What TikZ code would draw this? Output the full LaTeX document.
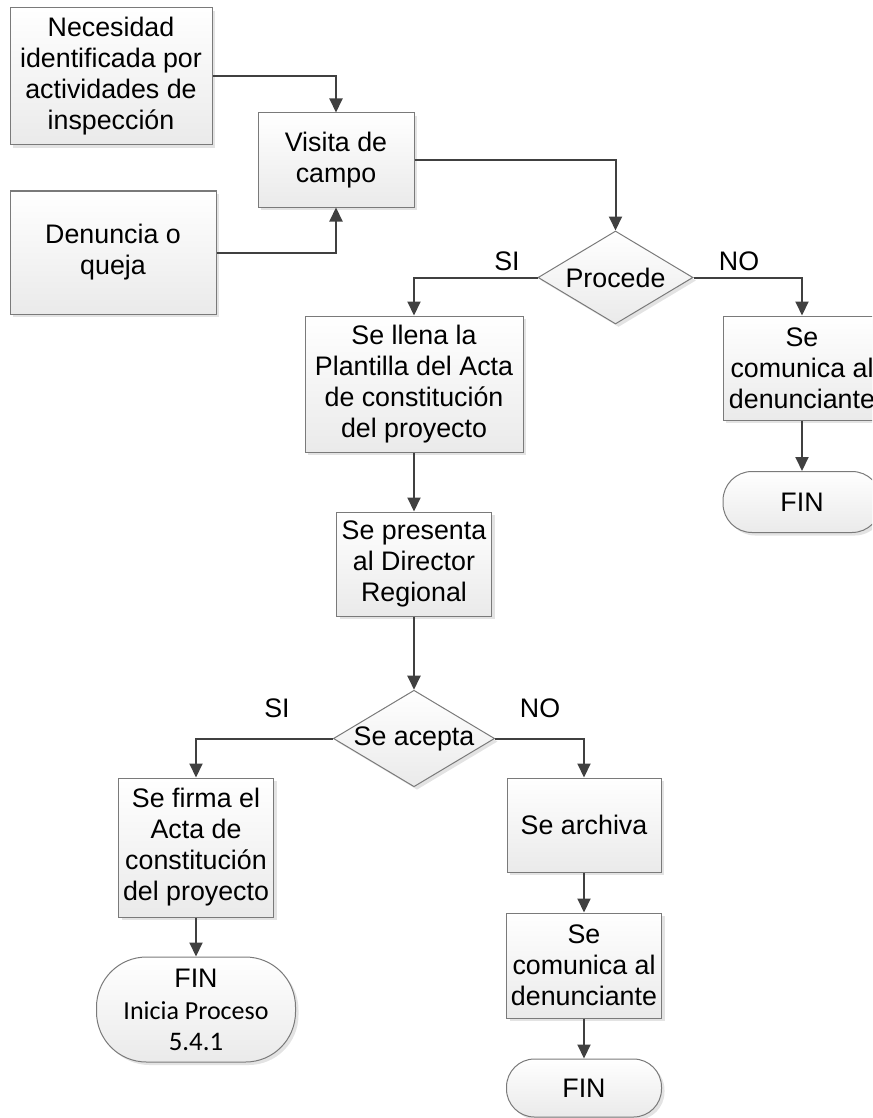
\documentclass[tikz,border=0pt]{standalone}
\usepackage{fontspec}
\setmainfont{Liberation Sans}
\newfontfamily\calibri{Carlito}
\usetikzlibrary{shapes.geometric,arrows.meta,shadows}

\definecolor{edgegray}{HTML}{404040}
\definecolor{bordergray}{HTML}{7A7A7A}
\definecolor{fillbottom}{HTML}{EAEAEA}

\tikzset{
  shapebase/.style={draw=bordergray, line width=1pt, top color=white,
    bottom color=fillbottom, inner sep=0pt, align=center,
    font=\fontsize{26.8}{31}\selectfont,
    drop shadow={shadow xshift=3pt, shadow yshift=-3pt, fill=black, opacity=0.11}},
  procbox/.style={shapebase, rectangle},
  decision/.style={shapebase, diamond, aspect=1.67},
  terminal/.style={shapebase, rectangle},
  flow/.style={draw=edgegray, line width=2pt, -{Triangle[length=14pt,width=13pt]}},
  answer/.style={font=\fontsize{26.8}{31}\selectfont, inner sep=0pt}
}

\begin{document}
\begin{tikzpicture}[x=1pt, y=-1pt]
  \useasboundingbox (0,0) rectangle (872,1118);
  \clip (0,0) rectangle (872,1118);

  % process boxes
  \node[procbox, minimum width=202, minimum height=137] (nec) at (111,76.5)
    {Necesidad\\identificada por\\actividades de\\inspección};
  \node[procbox, minimum width=206, minimum height=123] (den) at (113,252.5)
    {Denuncia o\\queja};
  \node[procbox, minimum width=156, minimum height=94] (vis) at (336,160)
    {Visita de\\campo};
  \node[decision, minimum width=155, minimum height=93] (proc) at (615.5,277.5)
    {Procede};
  \node[procbox, minimum width=218, minimum height=136] (llena) at (414,384)
    {Se llena la\\Plantilla del Acta\\de constitución\\del proyecto};
  \node[procbox, minimum width=158, minimum height=104] (com1) at (802,368)
    {Se\\comunica al\\denunciante};
  \node[terminal, rounded corners=29pt, minimum width=158, minimum height=61] (fin1) at (802,502)
    {FIN};
  \node[procbox, minimum width=155, minimum height=104] (pres) at (414,564)
    {Se presenta\\al Director\\Regional};
  \node[decision, minimum width=154, minimum height=91] (acep) at (414,738.5)
    {Se acepta};
  \node[procbox, minimum width=155, minimum height=139] (firma) at (196,847.5)
    {Se firma el\\Acta de\\constitución\\del proyecto};
  \node[terminal, rounded corners=50pt, minimum width=199, minimum height=105] (fin2) at (196,1009.5)
    {FIN\\[1pt]{\calibri\fontsize{26}{32}\selectfont Inicia Proceso}\\{\calibri 5.4.1}};
  \node[procbox, minimum width=154, minimum height=94] (arch) at (584,825)
    {Se archiva};
  \node[procbox, minimum width=155, minimum height=105] (com2) at (584,965.5)
    {Se\\comunica al\\denunciante};
  \node[terminal, rounded corners=28pt, minimum width=155, minimum height=58] (fin3) at (584,1088)
    {FIN};

  % answer labels
  \node[answer] (si1) at (507,261) {SI};
  \node[answer] (no1) at (739,261) {NO};
  \node[answer] (si2) at (277,708) {SI};
  \node[answer] (no2) at (540,708) {NO};

  % connectors
  \draw[flow] (nec.east) -| (vis.north);
  \draw[flow] (den.east) -| (vis.south);
  \draw[flow] (vis.east) -| (proc.north);
  \draw[flow] (proc.west) -| (llena.north);
  \draw[flow] (proc.east) -| (com1.north);
  \draw[flow] (com1.south) -- (fin1.north);
  \draw[flow] (llena.south) -- (pres.north);
  \draw[flow] (pres.south) -- (acep.north);
  \draw[flow] (acep.west) -| (firma.north);
  \draw[flow] (acep.east) -| (arch.north);
  \draw[flow] (firma.south) -- (fin2.north);
  \draw[flow] (arch.south) -- (com2.north);
  \draw[flow] (com2.south) -- (fin3.north);
\end{tikzpicture}
\end{document}
